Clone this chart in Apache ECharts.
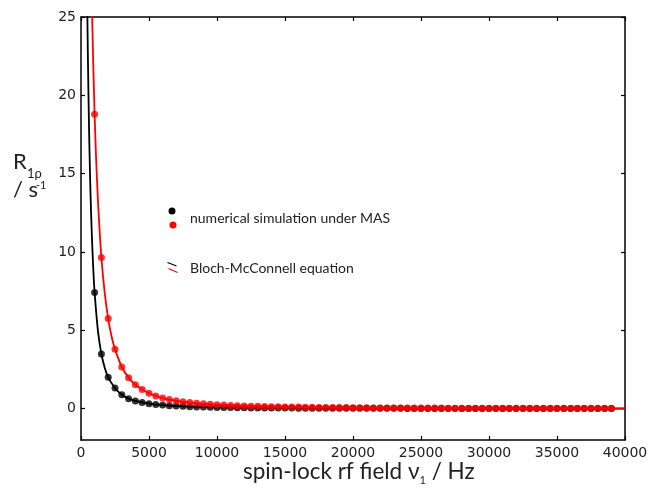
<!DOCTYPE html>
<html>
<head>
<meta charset="utf-8">
<script src="https://cdn.jsdelivr.net/npm/echarts@6/dist/echarts.min.js"></script>
<style>
  html, body { margin: 0; padding: 0; background: #fff; }
  #chart { width: 652px; height: 488px; }
</style>
</head>
<body>
<div id="chart"></div>
<script>
// Spin-lock field values (Hz) of the simulated points
const freqHz = [
  1000, 1500, 2000, 2500, 3000, 3500, 4000, 4500, 5000, 5500,
  6000, 6500, 7000, 7500, 8000, 8500, 9000, 9500, 10000, 10500,
  11000, 11500, 12000, 12500, 13000, 13500, 14000, 14500, 15000, 15500,
  16000, 16500, 17000, 17500, 18000, 18500, 19000, 19500, 20000, 20500,
  21000, 21500, 22000, 22500, 23000, 23500, 24000, 24500, 25000, 25500,
  26000, 26500, 27000, 27500, 28000, 28500, 29000, 29500, 30000, 30500,
  31000, 31500, 32000, 32500, 33000, 33500, 34000, 34500, 35000, 35500,
  36000, 36500, 37000, 37500, 38000, 38500, 39000
];

// R1rho from numerical simulation under MAS (s^-1)
const simRed = [
  18.8, 9.65, 5.75, 3.8, 2.66, 1.98, 1.53, 1.23, 0.98, 0.81,
  0.68, 0.58, 0.5, 0.44, 0.39, 0.34, 0.31, 0.28, 0.25, 0.23,
  0.21, 0.19, 0.17, 0.16, 0.15, 0.14, 0.13, 0.12, 0.11, 0.1,
  0.1, 0.09, 0.09, 0.08, 0.08, 0.07, 0.07, 0.07, 0.06, 0.06,
  0.06, 0.05, 0.05, 0.05, 0.05, 0.05, 0.04, 0.04, 0.04, 0.04,
  0.04, 0.04, 0.03, 0.03, 0.03, 0.03, 0.03, 0.03, 0.03, 0.03,
  0.03, 0.02, 0.02, 0.02, 0.02, 0.02, 0.02, 0.02, 0.02, 0.02,
  0.02, 0.02, 0.02, 0.02, 0.02, 0.02, 0.02
];
const simBlack = [
  7.42, 3.49, 2.0, 1.32, 0.89, 0.64, 0.49, 0.39, 0.32, 0.27,
  0.23, 0.19, 0.17, 0.15, 0.13, 0.11, 0.1, 0.09, 0.08, 0.07,
  0.07, 0.06, 0.06, 0.05, 0.05, 0.05, 0.04, 0.04, 0.04, 0.04,
  0.03, 0.03, 0.03, 0.03, 0.03, 0.02, 0.02, 0.02, 0.02, 0.02,
  0.02, 0.02, 0.02, 0.02, 0.02, 0.02, 0.01, 0.01, 0.01, 0.01,
  0.01, 0.01, 0.01, 0.01, 0.01, 0.01, 0.01, 0.01, 0.01, 0.01,
  0.01, 0.01, 0.01, 0.01, 0.01, 0.01, 0.01, 0.01, 0.01, 0.01,
  0.01, 0.01, 0.01, 0.01, 0.01, 0.01, 0.01
];

// Bloch-McConnell curves
const bmRedFreq = [600, 700, 800, 900, 1000, 1100, 1250, 1500, 1750, 2000, 2250, 2500,
  3000, 3500, 4000, 5000, 6000, 7000, 8000, 10000, 12000, 15000, 20000, 25000, 30000, 35000, 40000];
const bmRed = [36.2, 30.7, 25.9, 22.0, 18.8, 16.2, 13.2, 9.65, 7.34, 5.75, 4.61, 3.8,
  2.66, 1.98, 1.53, 0.98, 0.68, 0.5, 0.39, 0.25, 0.17, 0.11, 0.06, 0.04, 0.03, 0.02, 0.015];
const bmBlackFreq = [400, 450, 500, 550, 600, 650, 700, 800, 900, 1000, 1250, 1500, 1750, 2000, 2500,
  3000, 3500, 4000, 5000, 6000, 7000, 8000, 10000, 15000, 20000, 30000, 40000];
const bmBlack = [30.5, 26.4, 22.9, 20.0, 17.5, 15.5, 13.7, 11.0, 8.96, 7.42, 4.93, 3.49, 2.6, 2.0, 1.32,
  0.89, 0.64, 0.49, 0.32, 0.23, 0.17, 0.13, 0.08, 0.04, 0.02, 0.01, 0.005];

// Axis ticks
const yTicks = [0, 5, 10, 15, 20, 25];

const pairs = (xs, ys) => xs.map((x, i) => [x, ys[i]]);

const labelFont = 'DejaVu Sans';
const titleFont = 'Lato';

const chart = echarts.init(document.getElementById('chart'), null, { renderer: 'canvas' });

const axisCommon = {
  type: 'value',
  axisLine: { show: true, onZero: false, lineStyle: { color: '#000', width: 1.5 } },
  axisTick: { show: true, inside: true, length: 4, lineStyle: { color: '#000', width: 1.2 } },
  splitLine: { show: false }
};

chart.setOption({
  animation: false,
  backgroundColor: '#fff',
  grid: { left: 81, right: 27, top: 17, bottom: 48, containLabel: false },
  xAxis: [
    Object.assign({}, axisCommon, {
      position: 'bottom', min: 0, max: 40000, interval: 5000,
      axisLabel: { show: true, fontFamily: labelFont, fontSize: 14, color: '#222', margin: 6,
        formatter: v => String(v) }
    }),
    Object.assign({}, axisCommon, {
      position: 'top', min: 0, max: 40000, interval: 5000,
      axisLabel: { show: false }
    })
  ],
  yAxis: [
    Object.assign({}, axisCommon, {
      position: 'left', min: -2, max: 25,
      axisTick: Object.assign({}, axisCommon.axisTick, { customValues: yTicks }),
      axisLabel: { show: true, customValues: yTicks, fontFamily: labelFont, fontSize: 14, color: '#222', margin: 5 }
    }),
    Object.assign({}, axisCommon, {
      position: 'right', min: -2, max: 25,
      axisTick: Object.assign({}, axisCommon.axisTick, { customValues: yTicks }),
      axisLabel: { show: false }
    })
  ],
  series: [
    {
      type: 'line', name: 'Bloch-McConnell (black)',
      data: pairs(bmBlackFreq, bmBlack),
      smooth: 0.25, showSymbol: false, clip: true,
      lineStyle: { color: '#000', width: 1.8 }, z: 2
    },
    {
      type: 'scatter', name: 'simulation (black)',
      data: pairs(freqHz, simBlack),
      symbol: 'circle', symbolSize: 7, itemStyle: { color: '#000' }, z: 3
    },
    {
      type: 'line', name: 'Bloch-McConnell (red)',
      data: pairs(bmRedFreq, bmRed),
      smooth: 0.25, showSymbol: false, clip: true,
      lineStyle: { color: '#ff0000', width: 1.8 }, z: 4
    },
    {
      type: 'scatter', name: 'simulation (red)',
      data: pairs(freqHz, simRed),
      symbol: 'circle', symbolSize: 7, itemStyle: { color: '#ff0000' }, z: 5
    }
  ],
  graphic: [
    // legend entries
    { type: 'circle', shape: { cx: 172, cy: 211, r: 3.5 }, style: { fill: '#000' }, z: 10 },
    { type: 'circle', shape: { cx: 173, cy: 225, r: 3.5 }, style: { fill: '#ff0000' }, z: 10 },
    { type: 'text', x: 190, y: 218, z: 10,
      style: { text: 'numerical simulation under MAS', font: '14px Lato', fill: '#222', verticalAlign: 'middle' } },
    { type: 'line', shape: { x1: 167.5, y1: 262.5, x2: 176.5, y2: 266 }, style: { stroke: '#000', lineWidth: 1.2 }, z: 10 },
    { type: 'line', shape: { x1: 168.5, y1: 268.5, x2: 177.5, y2: 272.5 }, style: { stroke: '#ff0000', lineWidth: 1.2 }, z: 10 },
    { type: 'text', x: 190, y: 268, z: 10,
      style: { text: 'Bloch-McConnell equation', font: '14px Lato', fill: '#222', verticalAlign: 'middle' } },
    // y-axis title
    { type: 'text', x: 13, y: 162, z: 10,
      style: { text: 'R', font: '22px Lato', fill: '#222', verticalAlign: 'middle' } },
    { type: 'text', x: 27, y: 174, z: 10,
      style: { text: '1ρ', font: '13px Lato', fill: '#222', verticalAlign: 'middle' } },
    { type: 'text', x: 13, y: 190, z: 10,
      style: { text: '/ s', font: '22px Lato', fill: '#222', verticalAlign: 'middle' } },
    { type: 'text', x: 36, y: 185, z: 10,
      style: { text: '-1', font: '11px Lato', fill: '#222', verticalAlign: 'middle' } },
    // x-axis title
    { type: 'text', x: 243, y: 473, z: 10,
      style: {
        text: '{a|spin-lock rf field ν}{s|1}{a| / Hz}',
        fill: '#222', verticalAlign: 'middle',
        rich: {
          a: { fontFamily: titleFont, fontSize: 22.5, lineHeight: 26, fill: '#222', verticalAlign: 'top' },
          s: { fontFamily: titleFont, fontSize: 11, lineHeight: 12, fill: '#222', verticalAlign: 'bottom' }
        }
      } }
  ]
});
</script>
</body>
</html>
